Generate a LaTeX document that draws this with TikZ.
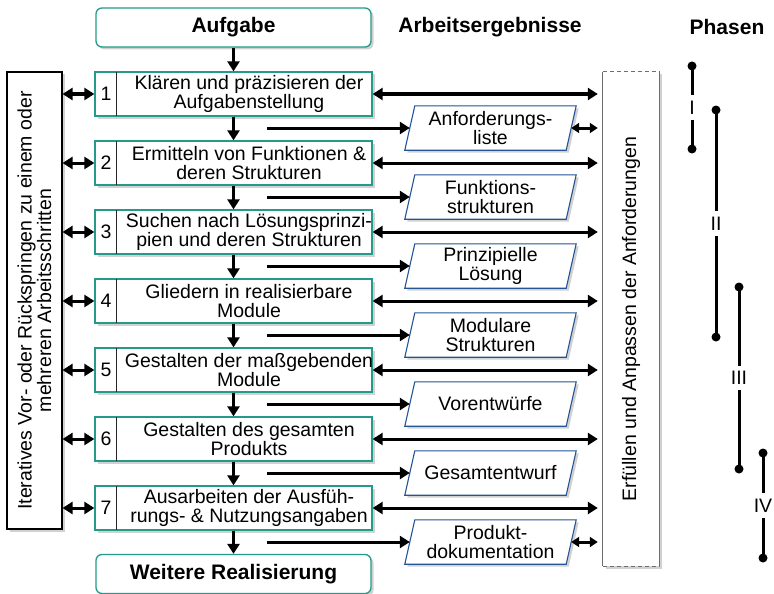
\documentclass[tikz,border=0pt]{standalone}
\usepackage{fontspec}
\setmainfont{Liberation Sans}
\usetikzlibrary{arrows.meta,shadows,backgrounds}
\definecolor{stepteal}{RGB}{36,155,137}
\definecolor{resblue}{RGB}{34,84,150}
\definecolor{framegray}{RGB}{110,110,110}
\newcommand{\normtxt}{\fontsize{19.5}{19.5}\selectfont}
\newcommand{\headtxt}{\fontsize{21}{21}\selectfont\bfseries}
\begin{document}
\begin{tikzpicture}[x=1pt,y=-1pt,
  softshadow/.style={drop shadow={shadow xshift=2.5pt,shadow yshift=-2.5pt,opacity=0.3,fill=black!60}},
  endbox/.style={draw=stepteal, line width=1.3pt, rounded corners=6pt, fill=white,
    minimum width=275pt, minimum height=39pt, inner sep=0pt, softshadow, font=\headtxt},
  stepbox/.style={draw=stepteal, line width=1.3pt, fill=white,
    minimum width=277pt, minimum height=44pt, inner sep=0pt, softshadow},
  stepnum/.style={font=\normtxt, inner sep=0pt},
  steptext/.style={font=\normtxt, align=center, inner sep=0pt},
  restext/.style={font=\normtxt, align=center, inner sep=0pt,
    minimum width=161pt, minimum height=44pt},
  pgram/.style={draw=resblue, line width=1.1pt, fill=white, softshadow},
  sidebox/.style={draw=black, line width=1.1pt, fill=white, inner sep=0pt, softshadow},
  sidetext/.style={font=\normtxt, align=center, rotate=90, inner sep=0pt},
  flow/.style={line width=3pt, -{Triangle[length=10pt,width=12pt]}},
  twoway/.style={line width=3pt, {Triangle[length=10pt,width=12pt]}-{Triangle[length=10pt,width=12pt]}},
  shortway/.style={line width=3pt, {Triangle[length=8pt,width=10pt]}-{Triangle[length=8pt,width=10pt]}},
  phase/.style={line width=3pt},
  phaselabel/.style={font=\normtxt, fill=white, inner xsep=1pt, inner ysep=5.5pt},
  heading/.style={font=\headtxt}
]
\useasboundingbox (0,0) rectangle (774,594);

% headings
\node[heading] (hres) at (490,27) {Arbeitsergebnisse};
\node[heading] (hphase) at (727,27) {Phasen};

% start and end of the process
\node[endbox] (start) at (233.5,27.5) {Aufgabe};
\node[endbox] (finish) at (233.5,574) {Weitere Realisierung};

% working steps
\foreach \i/\y/\txt in {
  1/94/{Klären und präzisieren der\\Aufgabenstellung},
  2/163/{Ermitteln von Funktionen \&\\deren Strukturen},
  3/232/{Suchen nach Lösungsprinzi-\\pien und deren Strukturen},
  4/301/{Gliedern in realisierbare\\Module},
  5/370/{Gestalten der maßgebenden\\Module},
  6/439/{Gestalten des gesamten\\Produkts},
  7/508/{Ausarbeiten der Ausfüh-\\rungs- \& Nutzungsangaben}} {
  \node[stepbox] (s\i) at (233.5,\y) {};
  \draw[line width=0.8pt, black!85, shorten <=0.65pt, shorten >=0.65pt]
    ([xshift=22pt]s\i.north west) -- ([xshift=22pt]s\i.south west);
  \node[stepnum] (n\i) at (106,\y) {\i};
  \node[steptext] (t\i) at (249,\y) {\txt};
}

% work results
\foreach \i/\y/\txt in {
  1/128/{Anforderungs-\\liste},
  2/197/{Funktions-\\strukturen},
  3/266/{Prinzipielle\\Lösung},
  4/335/{Modulare\\Strukturen},
  5/404/{Vorentwürfe},
  6/473/{Gesamtentwurf},
  7/542/{Produkt-\\dokumentation}} {
  \node[restext] (p\i) at (490.5,\y) {\txt};
  \coordinate (f\i) at (267,\y);
}
\begin{scope}[on background layer]
  \foreach \i in {1,...,7}
    \path[pgram] ([xshift=-5pt]p\i.south west) -- ([xshift=5pt]p\i.north west)
      -- ([xshift=5pt]p\i.north east) -- ([xshift=-5pt]p\i.south east) -- cycle;
\end{scope}

% iteration box on the left
\node[sidebox, minimum width=55pt, minimum height=457pt] (lb) at (34.5,300.5) {};
\node[sidetext] (lbt) at (lb.center) {Iteratives Vor- oder Rückspringen zu einem oder\\mehreren Arbeitsschritten};

% requirements box on the right
\node[fill=white, inner sep=0pt, minimum width=56pt, minimum height=494pt, softshadow] (rb) at (631,319) {};
\draw[framegray, line width=1pt] (rb.north west) -- (rb.south west) (rb.north east) -- (rb.south east);
\draw[framegray, line width=1pt, dash pattern=on 4pt off 3pt]
  (rb.north west) -- (rb.north east) (rb.south west) -- (rb.south east);
\node[sidetext] (rbt) at (rb.center) {Erfüllen und Anpassen der Anforderungen};

% main flow
\draw[flow] (start) -- (s1);
\foreach \i/\j in {1/2,2/3,3/4,4/5,5/6,6/7}
  \draw[flow] (s\i) -- (s\j);
\draw[flow] (s7) -- (finish);

% links to iteration box, requirements box and results
\foreach \i in {1,...,7} {
  \draw[twoway] (lb.east |- s\i.west) -- (s\i.west);
  \draw[twoway, shorten >=5pt] (s\i.east) -- (rb.west |- s\i.east);
  \draw[flow] (f\i) -- (p\i);
}
\draw[shortway, shorten >=5pt] (p1) -- (rb.west |- p1);
\draw[shortway, shorten >=5pt] (p7) -- (rb.west |- p7);

% phases
\coordinate (ph1a) at (692,66);  \coordinate (ph1b) at (692,149);
\coordinate (ph2a) at (716,110); \coordinate (ph2b) at (716,337);
\coordinate (ph3a) at (739,287); \coordinate (ph3b) at (739,469);
\coordinate (ph4a) at (763,453); \coordinate (ph4b) at (763,558);
\foreach \k/\lab in {1/I,2/II,3/III,4/IV} {
  \draw[phase] (ph\k a) -- node[phaselabel] (phl\k) {\lab} (ph\k b);
  \fill (ph\k a) circle (4.5pt);
  \fill (ph\k b) circle (4.5pt);
}
\end{tikzpicture}
\end{document}
